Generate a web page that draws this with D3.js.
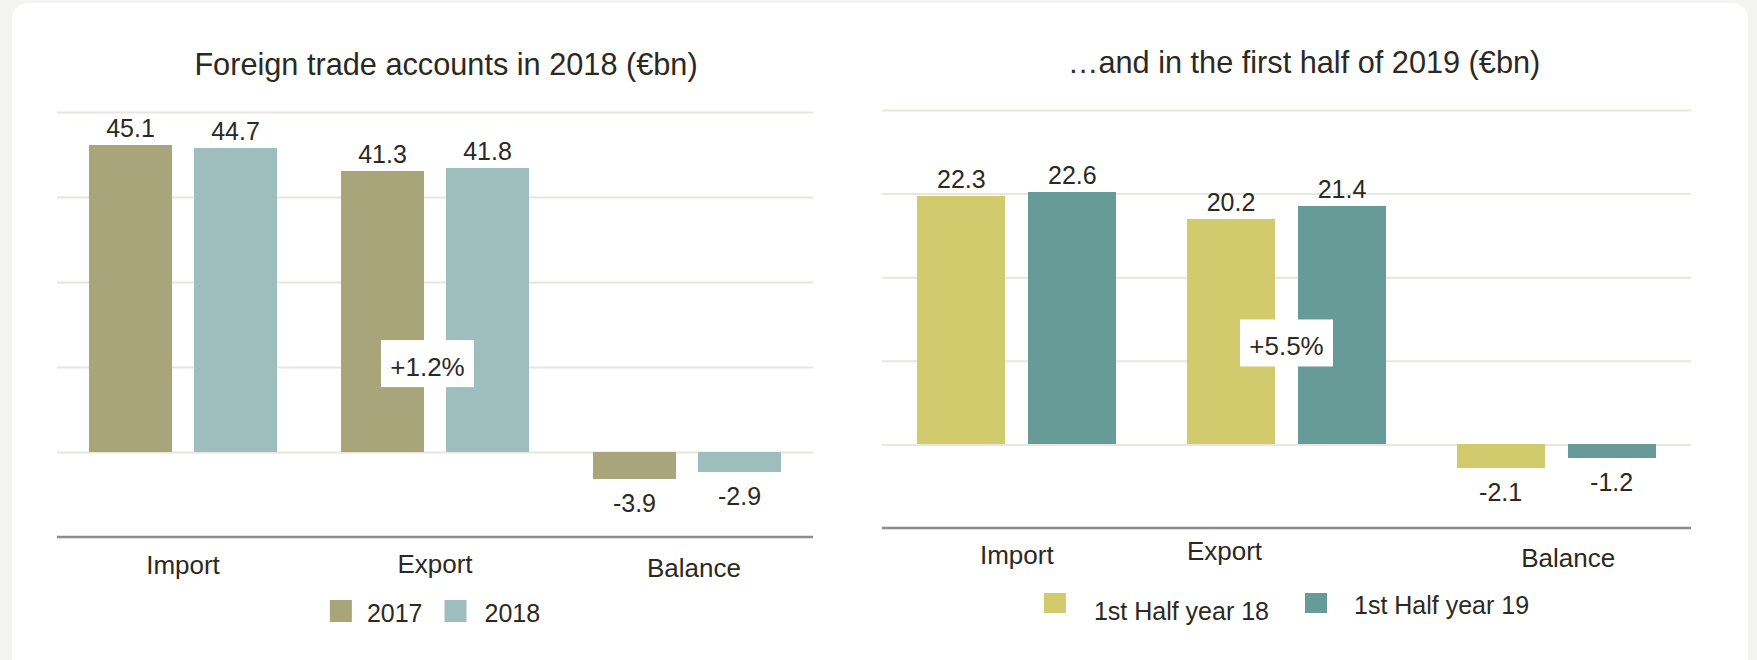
<!DOCTYPE html>
<meta charset="utf-8">
<style>
body {
  margin: 0;
  background: #f3f3f1;
}
svg {
  display: block;
  font-family: "Liberation Sans", Arial, Helvetica, sans-serif;
}
text {
  fill: #2b2921;
}
</style>
<body>
<script src="https://cdn.jsdelivr.net/npm/d3@7"></script>
<script>

var width = 1757,
    height = 660;

// categories shared by both charts
var categories = ["Import", "Export", "Balance"];

// left chart: full years
var seriesYear = ["2017", "2018"];
var values2017 = [45.1, 41.3, -3.9];
var values2018 = [44.7, 41.8, -2.9];
var gridYear = [-12.5, 0, 12.5, 25, 37.5, 50];
var changeYear = "+1.2%";

// right chart: first halves
var seriesHalf = ["1st Half year 18", "1st Half year 19"];
var valuesH18 = [22.3, 20.2, -2.1];
var valuesH19 = [22.6, 21.4, -1.2];
var gridHalf = [-7.5, 0, 7.5, 15, 22.5, 30];
var changeHalf = "+5.5%";

var titles = ["Foreign trade accounts in 2018 (\u20acbn)", "\u2026and in the first half of 2019 (\u20acbn)"];

var svg = d3.select("body").append("svg")
    .attr("width", width)
    .attr("height", height);

svg.append("rect")
    .attr("width", width)
    .attr("height", height)
    .attr("fill", "#f3f3f1");

// white card behind both charts
svg.append("rect")
    .attr("x", 12)
    .attr("y", 3)
    .attr("width", 1736)
    .attr("height", 720)
    .attr("rx", 16)
    .attr("fill", "#fff");

var fmt = function(v) { return d3.format(".1f")(v).replace("\u2212", "-"); };

var charts = [
  {
    title: titles[0], titleX: 446, titleY: 75,
    x: [57, 813], y: [537, 112],
    series: seriesYear, values: [values2017, values2018], grid: gridYear,
    colors: ["#a9a57b", "#9dbebd"],
    pad0: 0.254, pad1: 0.21,
    change: changeYear, changeAt: 13, changeDx: -7.5,
    catDx: [0, 0, 7], catY: [574, 573, 577],
    legendY: 600, swatchH: 22, gapText: [15, 18], gapItem: 22, textY: [622, 622]
  },
  {
    title: titles[1], titleX: 1304, titleY: 73,
    x: [882, 1691], y: [528, 110],
    series: seriesHalf, values: [valuesH18, valuesH19], grid: gridHalf,
    colors: ["#d2cb6e", "#679b98"],
    pad0: 0.262, pad1: 0.207,
    change: changeHalf, changeAt: 9.1, changeDx: 0,
    catDx: [0, -62, 12], catY: [564, 560, 567],
    legendY: 593, swatchH: 20, gapText: [28, 27], gapItem: 36, textY: [620, 614]
  }
];

charts.forEach(draw);

function draw(c) {
  var g = svg.append("g");

  var x0 = d3.scaleBand()
      .domain(categories)
      .range(c.x)
      .paddingInner(c.pad0)
      .paddingOuter(c.pad0 / 2);

  var x1 = d3.scaleBand()
      .domain(c.series)
      .range([0, x0.bandwidth()])
      .paddingInner(c.pad1);

  var y = d3.scaleLinear()
      .domain(d3.extent(c.grid))
      .range(c.y);

  var color = d3.scaleOrdinal()
      .domain(c.series)
      .range(c.colors);

  g.append("text")
      .attr("x", c.titleX)
      .attr("y", c.titleY)
      .attr("text-anchor", "middle")
      .style("font-size", "30.7px")
      .text(c.title);

  // gridlines
  var grid = g.append("g")
      .attr("transform", "translate(" + c.x[0] + ",0)")
      .call(d3.axisLeft(y)
        .tickValues(c.grid.slice(1))
        .tickSize(-(c.x[1] - c.x[0]))
        .tickFormat(""));
  grid.select(".domain").remove();
  grid.selectAll("line")
      .attr("stroke", "#e9e6de")
      .attr("stroke-width", 2);

  var rows = categories.map(function(cat, i) {
    return {
      cat: cat,
      vals: c.series.map(function(s, j) { return {s: s, v: c.values[j][i]}; })
    };
  });

  var groups = g.selectAll(".grp")
    .data(rows)
    .enter().append("g")
      .attr("transform", function(d) { return "translate(" + x0(d.cat) + ",0)"; });

  groups.selectAll("rect")
    .data(function(d) { return d.vals; })
    .enter().append("rect")
      .attr("x", function(d) { return x1(d.s); })
      .attr("y", function(d) { return y(Math.max(0, d.v)); })
      .attr("width", x1.bandwidth())
      .attr("height", function(d) { return Math.abs(y(d.v) - y(0)); })
      .attr("fill", function(d) { return color(d.s); })
      .attr("shape-rendering", "crispEdges");

  groups.selectAll(".val")
    .data(function(d) { return d.vals; })
    .enter().append("text")
      .attr("x", function(d) { return x1(d.s) + x1.bandwidth() / 2; })
      .attr("y", function(d) { return d.v >= 0 ? y(d.v) - 8 : y(d.v) + 33; })
      .attr("text-anchor", "middle")
      .style("font-size", "25px")
      .text(function(d) { return fmt(d.v); });

  // bottom axis line
  g.append("line")
      .attr("x1", c.x[0])
      .attr("x2", c.x[1])
      .attr("y1", y(c.grid[0]))
      .attr("y2", y(c.grid[0]))
      .attr("stroke", "#8c8c8c")
      .attr("stroke-width", 2.5);

  g.selectAll(".cat")
    .data(categories)
    .enter().append("text")
      .attr("x", function(d, i) { return x0(d) + x0.bandwidth() / 2 + c.catDx[i]; })
      .attr("y", function(d, i) { return c.catY[i]; })
      .attr("text-anchor", "middle")
      .style("font-size", "26px")
      .text(function(d) { return d; });

  // change label on export
  var cx = x0("Export") + x0.bandwidth() / 2 + c.changeDx,
      cy = y(c.changeAt);
  g.append("rect")
      .attr("x", cx - 46.5)
      .attr("y", cy - 23.5)
      .attr("width", 93)
      .attr("height", 47)
      .attr("fill", "#fff");
  g.append("text")
      .attr("x", cx)
      .attr("y", cy + 12.5)
      .attr("text-anchor", "middle")
      .style("font-size", "26px")
      .text(c.change);

  // legend, centred under the chart
  var leg = g.append("g");
  var items = leg.selectAll("g")
    .data(c.series)
    .enter().append("g");
  items.append("rect")
      .attr("width", 22)
      .attr("height", c.swatchH)
      .attr("y", c.legendY)
      .attr("fill", function(d) { return color(d); });
  items.append("text")
      .attr("x", function(d, i) { return 22 + c.gapText[i]; })
      .attr("y", function(d, i) { return c.textY[i]; })
      .style("font-size", "25px")
      .text(function(d) { return d; });

  var pos = 0;
  items.each(function(d, i) {
    d3.select(this).attr("transform", "translate(" + pos + ",0)");
    pos += 22 + c.gapText[i] + this.querySelector("text").getComputedTextLength() + c.gapItem;
  });
  pos -= c.gapItem;
  leg.attr("transform", "translate(" + ((c.x[0] + c.x[1]) / 2 - pos / 2) + ",0)");
}

</script>
